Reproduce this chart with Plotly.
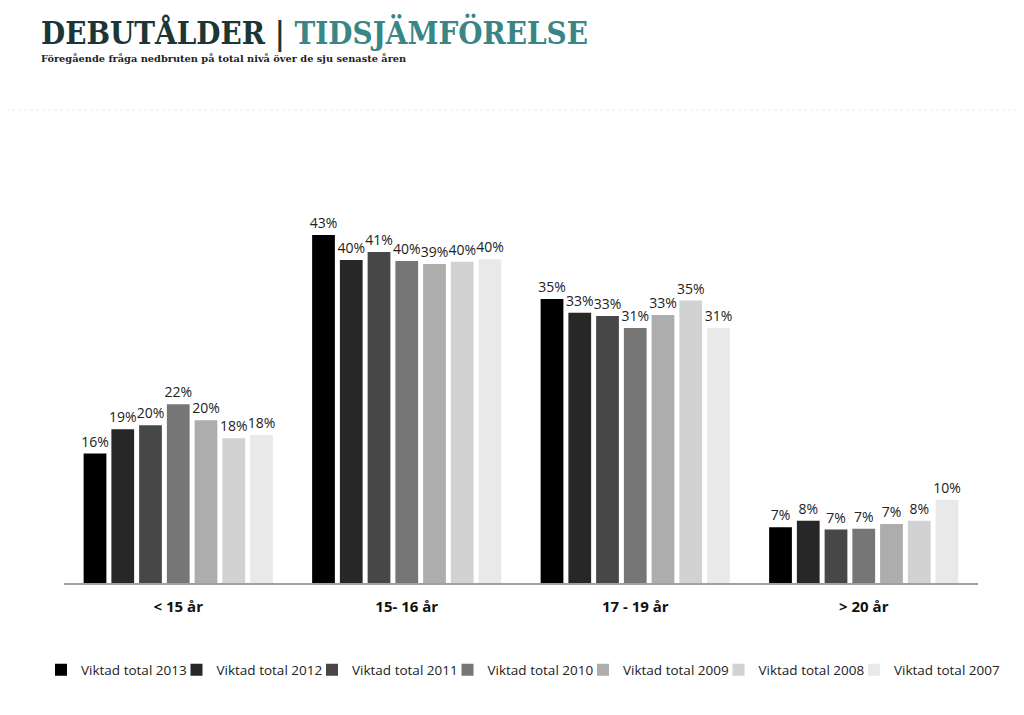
import plotly.graph_objects as go

categories = ["< 15 år", "15- 16 år", "17 - 19 år", "> 20 år"]
series_names = ["Viktad total 2013", "Viktad total 2012", "Viktad total 2011",
                "Viktad total 2010", "Viktad total 2009", "Viktad total 2008",
                "Viktad total 2007"]
v2013 = [16, 43, 35, 7]
v2012 = [19, 40, 33, 8]
v2011 = [20, 41, 33, 7]
v2010 = [22, 40, 31, 7]
v2009 = [20, 39, 33, 7]
v2008 = [18, 40, 35, 8]
v2007 = [18, 40, 31, 10]
# bar heights as measured (labels show rounded values above)
h2013 = [16.0, 43.0, 35.1, 6.9]
h2012 = [19.0, 39.9, 33.4, 7.7]
h2011 = [19.5, 40.9, 33.0, 6.6]
h2010 = [22.1, 39.8, 31.5, 6.7]
h2009 = [20.1, 39.4, 33.1, 7.3]
h2008 = [17.9, 39.7, 34.9, 7.7]
h2007 = [18.3, 40.0, 31.5, 10.3]
colors = ["#000000", "#272727", "#474747", "#767676", "#adadad", "#d2d2d2", "#e9e9e9"]

labels = [v2013, v2012, v2011, v2010, v2009, v2008, v2007]
heights = [h2013, h2012, h2011, h2010, h2009, h2008, h2007]

fig = go.Figure()
legend_layout = {}
LEG_START, LEG_STEP = 33, 135.5  # legend entry placement in pixels
for i, (name, lab, h, c) in enumerate(zip(series_names, labels, heights, colors)):
    lg = "legend" if i == 0 else f"legend{i + 1}"
    fig.add_trace(go.Bar(
        name=name, x=categories, y=h, marker=dict(color=c, line=dict(width=0)),
        text=[f"{v}%" for v in lab], textposition="outside", cliponaxis=False,
        constraintext="none", legend=lg,
        textfont=dict(family="Open Sans", size=14, color="#222222"),
    ))
    legend_layout[lg] = dict(orientation="h", xref="container", xanchor="left",
                             x=(LEG_START + i * LEG_STEP) / 1024,
                             yref="container", y=0.074, yanchor="middle",
                             font=dict(family="Open Sans", size=13.5, color="#222222"),
                             itemwidth=30, bgcolor="rgba(0,0,0,0)")

fig.update_layout(
    width=1024, height=715,
    paper_bgcolor="white", plot_bgcolor="white",
    barmode="group", bargap=0.15, bargroupgap=0.18,
    margin=dict(l=56, r=54, t=142, b=140),
    font=dict(family="Open Sans", color="#222222"),
    showlegend=True,
    **legend_layout,
)
fig.update_xaxes(showline=True, linecolor="#a0a0a0", linewidth=1.5, ticks="",
                 tickfont=dict(family="Open Sans", size=15, color="#111111", weight="bold"),
                 ticklabelstandoff=9, fixedrange=True)
fig.update_yaxes(range=[0, 53.5], visible=False, showgrid=False, fixedrange=True)

# Title and subtitle
fig.add_annotation(xref="paper", yref="paper", x=-0.027, y=1.0, yshift=118, xanchor="left", yanchor="middle",
                   text="<span style='color:#1c3535'>DEBUTÅLDER</span> <span style='color:#1c3535'>|</span> "
                        "<span style='color:#3a8585'>TIDSJÄMFÖRELSE</span>",
                   showarrow=False,
                   font=dict(family="DejaVu Serif Condensed", size=31, weight="bold"))
fig.add_annotation(xref="paper", yref="paper", x=-0.027, y=1.0, yshift=92, xanchor="left", yanchor="middle",
                   text="Föregående fråga nedbruten på total nivå över de sju senaste åren",
                   showarrow=False, font=dict(family="DejaVu Serif", size=9.8, color="#222222", weight="bold"))
# faint dotted separator
fig.add_shape(type="line", xref="paper", yref="paper", x0=-0.07, x1=1.06, y0=1.0924, y1=1.0924,
              line=dict(color="#ececec", width=1, dash="dot"))

fig.write_html("out.html")
